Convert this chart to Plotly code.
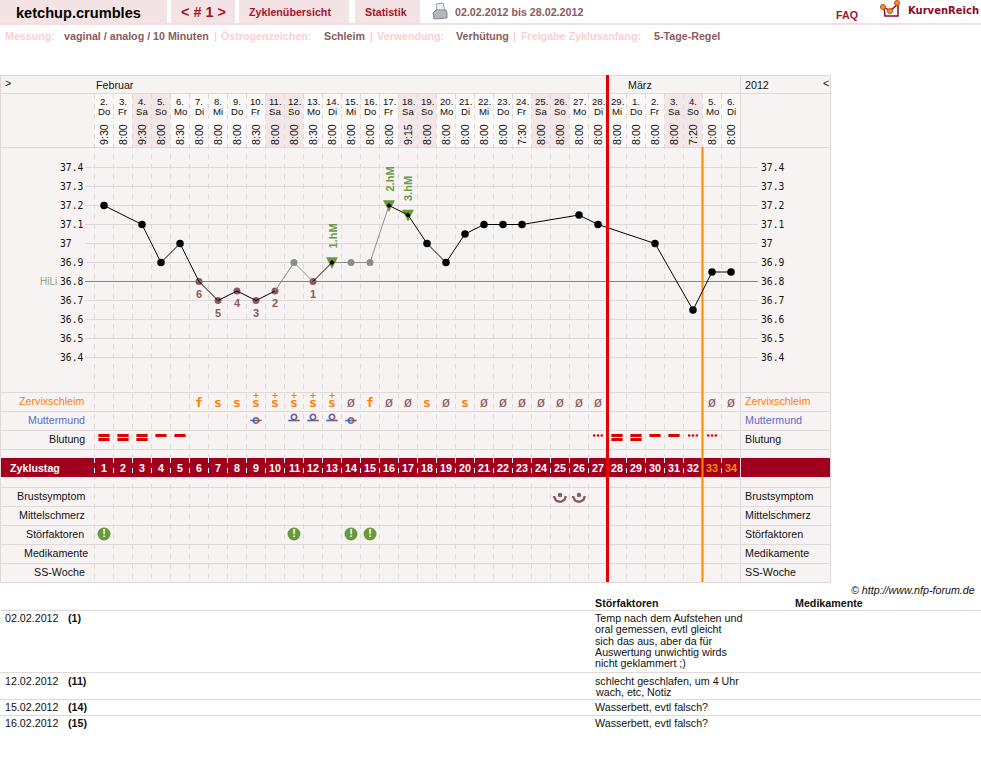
import math
import plotly.graph_objects as go

W, H = 981, 773
DAY_PX = 19
TEMP_PX = 190

dates = ["2.", "3.", "4.", "5.", "6.", "7.", "8.", "9.", "10.", "11.", "12.", "13.", "14.", "15.", "16.", "17.", "18.",
         "19.", "20.", "21.", "22.", "23.", "24.", "25.", "26.", "27.", "28.", "29.", "1.", "2.", "3.", "4.", "5.", "6."]
weekdays = ["Do", "Fr", "Sa", "So", "Mo", "Di", "Mi", "Do", "Fr", "Sa", "So", "Mo", "Di", "Mi", "Do", "Fr", "Sa",
            "So", "Mo", "Di", "Mi", "Do", "Fr", "Sa", "So", "Mo", "Di", "Mi", "Do", "Fr", "Sa", "So", "Mo", "Di"]
times = ["9:30", "8:00", "9:30", "8:00", "8:30", "8:00", "8:00", "8:00", "8:30", "8:00", "8:00", "8:30", "8:00", "8:00",
         "8:00", "8:00", "9:15", "8:00", "8:00", "8:00", "8:00", "8:00", "7:30", "8:00", "8:00", "8:00", "8:00", "8:00",
         "8:00", "8:00", "8:00", "7:20", "8:00", "8:00"]
cycle_days = list(range(1, 35))

temps = [37.2, None, 37.1, 36.9, 37.0, 36.8, 36.7, 36.75, 36.7, 36.75, 36.9, 36.8, 36.9, 36.9, 36.9, 37.2, 37.15,
         37.0, 36.9, 37.05, 37.1, 37.1, 37.1, None, None, 37.15, 37.1, None, None, 37.0, None, 36.65, 36.85, 36.85]
excluded_days = [11, 14, 15]
low_days = [6, 7, 8, 9, 10, 12]
low_labels = ["6", "5", "4", "3", "2", "1"]
peak_days = [13, 16, 17]
peak_labels = ["1.hM", "2.hM", "3.hM"]
cover_line = 36.8
temp_ticks = [37.4, 37.3, 37.2, 37.1, 37.0, 36.9, 36.8, 36.7, 36.6, 36.5, 36.4]
temp_tick_labels = ["37.4", "37.3", "37.2", "37.1", "37", "36.9", "36.8", "36.7", "36.6", "36.5", "36.4"]

mucus = ["", "", "", "", "", "f", "s", "s", "s+", "s+", "s+", "s+", "s+", "ø", "f", "ø", "ø", "s", "ø", "s", "ø", "ø",
         "ø", "ø", "ø", "ø", "ø", "", "", "", "", "", "ø", "ø"]
cervix_mid_days = [9, 14]
cervix_high_days = [11, 12, 13]
bleed_heavy_days = [1, 2, 3, 28, 29]
bleed_normal_days = [4, 5, 30, 31]
bleed_spot_days = [27, 32, 33]
breast_days = [25, 26]
disturbance_days = [1, 11, 14, 15]
red_line_day = 27.5
orange_line_day = 32.5

row_names = ["Zervixschleim", "Muttermund", "Blutung", "Brustsymptom", "Mittelschmerz", "Störfaktoren", "Medikamente", "SS-Woche"]
row_centres = [401, 420, 439, 496, 515, 534, 553, 572]
row_right_edges = [85, 86, 86, 86, 86, 85, 89, 86]
row_colours = ["#ff8000", "#5a6ccc", "#111111", "#111111", "#111111", "#111111", "#111111", "#111111"]
row_rules = [392, 411, 430, 449, 487, 506, 525, 544, 563, 582]

note_dates = ["02.02.2012", "12.02.2012", "15.02.2012", "16.02.2012"]
note_days = ["(1)", "(11)", "(14)", "(15)"]
note_lines = [["Temp nach dem Aufstehen und", "oral gemessen, evtl gleicht", "sich das aus, aber da für",
               "Auswertung unwichtig wirds", "nicht geklammert ;)"],
              ["schlecht geschlafen, um 4 Uhr", "wach, etc, Notiz"],
              ["Wasserbett, evtl falsch?"],
              ["Wasserbett, evtl falsch?"]]
note_tops = [618, 681, 707, 723]
note_rules = [610, 672, 699, 715]

BG = "#f8f3f3"
RULE = "#dfdad9"
WEEKEND = "#f3e6e7"
CRIMSON = "#a0001e"
TAB_RED = "#a3142d"
BROWN = "#8a5a5e"
GREEN = "#669a3a"
PINK = "#f9d0d1"
SANS = "Liberation Sans"
MONO = "DejaVu Sans Mono"
BODY = 10.7


def px(x):
    return x / W


def py(y):
    return 1 - y / H


def day_x(pixel):
    return 1 + (pixel - 104) / DAY_PX


shapes = []
annotations = []


def rect(x0, y0, x1, y1, color, layer="below"):
    shapes.append(dict(type="rect", xref="paper", yref="paper", x0=px(x0), x1=px(x1), y0=py(y0), y1=py(y1),
                       fillcolor=color, line_width=0, layer=layer))


def hline(x0, x1, y, color=RULE, width=1):
    shapes.append(dict(type="line", xref="paper", yref="paper", x0=px(x0), x1=px(x1), y0=py(y), y1=py(y),
                       line=dict(color=color, width=width), layer="below"))


def vline(x, y0, y1, color=RULE, width=1, dash="solid"):
    shapes.append(dict(type="line", xref="paper", yref="paper", x0=px(x), x1=px(x), y0=py(y0), y1=py(y1),
                       line=dict(color=color, width=width, dash=dash), layer="below"))


def label(x, y, text, size=BODY, color="#111111", bold=False, anchor="left", family=SANS, angle=0, italic=False,
          xref="paper", yref="paper"):
    if bold:
        text = "<b>" + text + "</b>"
    if italic:
        text = "<i>" + text + "</i>"
    # annotations carry a one-pixel inset on the anchored side
    left_inset = 1 if anchor == "left" and xref == "paper" else 0
    annotations.append(dict(x=px(x - left_inset) if xref == "paper" else x, y=py(y) if yref == "paper" else y, xref=xref,
                            yref=yref, text=text, showarrow=False, xanchor=anchor, yanchor="middle", borderpad=0,
                            textangle=angle, font=dict(family=family, size=size, color=color)))


# page header tabs
rect(0, 0, 167, 23, "#f4e3e4")
rect(171, 0, 235, 23, "#f4e3e4")
rect(239, 0, 349, 23, "#f4e3e4")
rect(355, 0, 420, 23, "#f4e3e4")
rect(0, 23, W, 25, "#f4dfe0")
label(16, 13, "ketchup.crumbles", size=14.6, color="#000000", bold=True)
label(181, 12.5, "&lt; # 1 &gt;", size=14.4, color=TAB_RED, bold=True)
label(249, 12.5, "Zyklenübersicht", color=TAB_RED, bold=True)
label(365, 12.5, "Statistik", color=TAB_RED, bold=True)
label(455, 12.5, "02.02.2012 bis 28.02.2012", color=BROWN, bold=True)
label(836, 14.5, "FAQ", color=TAB_RED, bold=True)
label(908, 10.5, "KurvenReich", size=10, color="#8c0a24", bold=True, family="DejaVu Sans")

# printer icon
shapes.append(dict(type="path", xref="paper", yref="paper", layer="below", fillcolor="#eceef2",
                   line=dict(color="#9a9ea4", width=1),
                   path=f"M {px(436)} {py(4)} L {px(443)} {py(3)} L {px(445)} {py(11)} L {px(437)} {py(11)} Z"))
shapes.append(dict(type="path", xref="paper", yref="paper", layer="below", fillcolor="#b3b6bb",
                   line=dict(color="#85888e", width=1),
                   path=f"M {px(433)} {py(13)} L {px(436)} {py(10)} L {px(446)} {py(10)} L {px(447)} {py(13)} "
                        f"L {px(447)} {py(18)} L {px(434)} {py(19)} Z"))

# logo mark
shapes.append(dict(type="path", xref="paper", yref="paper", layer="below", line=dict(color="#8c0a24", width=1.5),
                   path=f"M {px(884)} {py(7)} L {px(885)} {py(16)} L {px(898)} {py(16)} L {px(898)} {py(4)} "
                        f"L {px(890)} {py(11)} L {px(884)} {py(7)}"))
for lx, ly in [(883, 7), (890, 11), (897, 3)]:
    shapes.append(dict(type="circle", xref="paper", yref="paper", layer="above", fillcolor="#f59a10",
                       line=dict(color="#c8401a", width=1), x0=px(lx - 2.5), x1=px(lx + 2.5), y0=py(ly - 2.5),
                       y1=py(ly + 2.5)))

# settings line
for x, text, colour in [(5, "Messung:", PINK), (64, "vaginal / analog / 10 Minuten", BROWN), (214, "|", PINK),
                        (221, "Östrogenzeichen:", PINK), (324, "Schleim", BROWN), (370, "|", PINK),
                        (377, "Verwendung:", PINK), (456, "Verhütung", BROWN), (513, "|", PINK),
                        (521, "Freigabe Zyklusanfang:", PINK), (654, "5-Tage-Regel", BROWN)]:
    label(x, 36, text, color=colour, bold=True)

# chart panel
rect(0, 75, 831, 583, BG)
for i, name in enumerate(weekdays):
    colour = WEEKEND if name in ("Sa", "So") else "#fbf8f8"
    x0 = 94.5 + DAY_PX * i
    rect(x0, 94, x0 + DAY_PX, 147, colour)
hline(0, 831, 75.5)
hline(0, 831, 93.5)
hline(0, 831, 147.5)
vline(0.5, 75, 583)
vline(830.5, 75, 583)
for i in range(len(cycle_days) + 1):
    vline(94.5 + DAY_PX * i, 94, 582, dash="5px,5px")
for y in row_rules:
    hline(0, 831, y + 0.5)

# cycle day band
rect(1, 458, 830, 477, CRIMSON)
for i in range(len(cycle_days) + 1):
    vline(94.5 + DAY_PX * i, 458, 477, color="#ffffff", dash="5px,5px")
vline(740.5, 75, 583)
label(10, 468, "Zyklustag", color="#ffffff", bold=True)
for d in cycle_days:
    label(d, 468, str(d), color="#ff8c00" if d >= 33 else "#ffffff", bold=True, anchor="center", xref="x")

# temperature scale
for value, text in zip(temp_ticks, temp_tick_labels):
    shapes.append(dict(type="line", xref="paper", yref="y", x0=px(85), x1=px(758), y0=value, y1=value,
                       line=dict(color=RULE, width=1), layer="below"))
    label(59.5, value, text, size=9.7, family=MONO, color="#111111", yref="y")
    label(761, value, text, size=9.7, family=MONO, color="#111111", yref="y")
shapes.append(dict(type="line", xref="paper", yref="y", x0=px(85), x1=px(758), y0=cover_line, y1=cover_line,
                   line=dict(color="#6f9a48", width=1), layer="below"))
label(40, cover_line, "HiLi", size=10, color="#8da67c", yref="y")

# cycle boundary markers
shapes.append(dict(type="line", xref="x", yref="paper", x0=orange_line_day, x1=orange_line_day, y0=py(147), y1=py(582),
                   line=dict(color="#ff8800", width=2), layer="below"))
shapes.append(dict(type="line", xref="x", yref="paper", x0=red_line_day, x1=red_line_day, y0=py(75), y1=py(582),
                   line=dict(color="#e60000", width=3), layer="above"))

# calendar header
label(96, 85, "Februar")
label(628, 85, "März")
label(745, 85, "2012")
label(5, 83, "&gt;")
label(823, 83, "&lt;")
for d, day, name, clock in zip(cycle_days, dates, weekdays, times):
    label(d, 101.5, day, size=9.6, anchor="center", xref="x")
    label(d, 111.5, name, size=9.6, anchor="center", xref="x")
    label(d, 135, clock, size=BODY, anchor="center", angle=-90, xref="x")

# row captions on both sides
for name, centre, colour, edge in zip(row_names, row_centres, row_colours, row_right_edges):
    label(edge, centre, name, color=colour, anchor="right")
    label(745, centre, name, color=colour)

# footer table
label(976, 590, "© http://www.nfp-forum.de", anchor="right", italic=True)
label(595, 603, "Störfaktoren", bold=True)
label(795, 603, "Medikamente", bold=True)
for y in note_rules:
    hline(0, W, y + 0.5)
for date, day, lines, top in zip(note_dates, note_days, note_lines, note_tops):
    label(5, top, date)
    label(68, top, day, bold=True)
    for j, line in enumerate(lines):
        label(595, top + j * 11.3, line)

fig = go.Figure()
measured = [(d, t) for d, t in zip(cycle_days, temps) if t is not None]
black_x, black_y, grey_x, grey_y = [], [], [], []
for (d0, t0), (d1, t1) in zip(measured, measured[1:]):
    if d0 in excluded_days or d1 in excluded_days:
        grey_x += [d0, d1, None]
        grey_y += [t0, t1, None]
    else:
        black_x += [d0, d1, None]
        black_y += [t0, t1, None]
lookup = dict(measured)


def temp_markers(days, symbol, size, colour):
    fig.add_trace(go.Scatter(x=days, y=[lookup[d] for d in days], mode="markers",
                             marker=dict(symbol=symbol, size=size, color=colour, line_width=0), showlegend=False))


temp_markers(low_days, "circle", 7, "#8a5a5e")
temp_markers(excluded_days, "circle", 7, "#8c8c8c")

# peak markers: a downward wedge hanging around the reading
wedge_x, wedge_y = [], []
for d in peak_days:
    t = lookup[d]
    wedge_x += [d - 5.5 / DAY_PX, d + 5.5 / DAY_PX, d, d - 5.5 / DAY_PX, None]
    wedge_y += [t + 5 / TEMP_PX, t + 5 / TEMP_PX, t - 6 / TEMP_PX, t + 5 / TEMP_PX, None]
fig.add_trace(go.Scatter(x=wedge_x, y=wedge_y, mode="lines", fill="toself", fillcolor=GREEN,
                         line=dict(color=GREEN, width=0.5), showlegend=False))

fig.add_trace(go.Scatter(x=grey_x, y=grey_y, mode="lines", line=dict(color="#8c8c8c", width=1), showlegend=False))
fig.add_trace(go.Scatter(x=black_x, y=black_y, mode="lines", line=dict(color="#000000", width=1), showlegend=False))
plain_days = [d for d, _ in measured if d not in excluded_days + low_days + peak_days]
temp_markers(plain_days, "circle", 7.5, "#000000")
temp_markers(peak_days, "diamond", 4, "#000000")

for d, text in zip(low_days, low_labels):
    annotations.append(dict(x=d, y=lookup[d], xref="x", yref="y", text=f"<b>{text}</b>", showarrow=False, yshift=-12,
                            borderpad=0, font=dict(family=SANS, size=11, color=BROWN)))
for d, text in zip(peak_days, peak_labels):
    annotations.append(dict(x=d, y=lookup[d], xref="x", yref="y", text=f"<b>{text}</b>", showarrow=False, yshift=26,
                            textangle=-90, borderpad=0, font=dict(family=SANS, size=11, color="#6a9a45")))


def row_trace(x, y, **kwargs):
    fig.add_trace(go.Scatter(x=x, y=y, yaxis="y2", showlegend=False, **kwargs))


def arc(day, centre, radius, start, stop, steps=10):
    angles = [math.radians(start + (stop - start) * k / steps) for k in range(steps + 1)]
    return ([day + radius * math.cos(a) / DAY_PX for a in angles], [centre + radius * math.sin(a) for a in angles])


# cervical mucus symbols
mucus_orange = [(d, m[0]) for d, m in zip(cycle_days, mucus) if m and m[0] in "fs"]
mucus_dry = [d for d, m in zip(cycle_days, mucus) if m == "ø"]
mucus_plus = [d for d, m in zip(cycle_days, mucus) if m == "s+"]
row_trace([d for d, _ in mucus_orange], [403.5] * len(mucus_orange), mode="text", text=[m for _, m in mucus_orange],
          textfont=dict(family=MONO, size=13, color="#ff8000", weight="bold"))
row_trace(mucus_dry, [403.5] * len(mucus_dry), mode="text", text=["ø"] * len(mucus_dry),
          textfont=dict(family=MONO, size=14, color=BROWN))
row_trace(mucus_plus, [395.5] * len(mucus_plus), mode="markers",
          marker=dict(symbol="cross-thin", size=3.8, line=dict(color="#ff8000", width=1.1)))


# cervix position symbols: blue on the left half, brown on the right
def cervix(days, ring_y, bar_y):
    for d in days:
        xs, ys = arc(d, ring_y, 2.7, 90, 270)
        row_trace(xs + [None, d - 0.3, d], ys + [None, bar_y, bar_y], mode="lines", line=dict(color="#4f5fc4", width=1.6))
        xs, ys = arc(d, ring_y, 2.7, -90, 90)
        row_trace(xs + [None, d, d + 0.3], ys + [None, bar_y, bar_y], mode="lines", line=dict(color=BROWN, width=1.6))


cervix(cervix_mid_days, 420.5, 420.5)
cervix(cervix_high_days, 417, 420.5)

# bleeding symbols
bar = dict(symbol="line-ew", size=8, line=dict(color="#dd0000", width=3))
row_trace(bleed_heavy_days + bleed_normal_days, [435.5] * 9, mode="markers", marker=bar)
row_trace(bleed_heavy_days, [439.5] * len(bleed_heavy_days), mode="markers", marker=bar)
spot_x = [d + offset for d in bleed_spot_days for offset in (-0.2, 0, 0.2)]
row_trace(spot_x, [435.5] * len(spot_x), mode="markers", marker=dict(symbol="circle", size=2.6, color="#dd0000", line_width=0))

# breast symptom symbols
for d in breast_days:
    xs, ys = arc(d, 496, 5.8, 0, 180, 16)
    row_trace(xs, ys, mode="lines", line=dict(color=BROWN, width=2.4))
row_trace(breast_days, [495] * len(breast_days), mode="markers", marker=dict(symbol="circle", size=4.5, color=BROWN, line_width=0))

# disturbance badges
row_trace(disturbance_days, [534] * len(disturbance_days), mode="markers+text", text=["!"] * len(disturbance_days),
          textposition="middle center", marker=dict(symbol="circle", size=13, color=GREEN, line_width=0),
          textfont=dict(family=SANS, size=11, color="#ffffff", weight="bold"))

fig.update_layout(
    width=W, height=H, autosize=False, margin=dict(l=0, r=0, t=0, b=0), paper_bgcolor="#ffffff", plot_bgcolor="rgba(0,0,0,0)",
    hovermode=False, showlegend=False, shapes=shapes, annotations=annotations,
    xaxis=dict(range=[day_x(0), day_x(W)], domain=[0, 1], visible=False, fixedrange=True),
    yaxis=dict(range=[cover_line + (281.5 - H) / TEMP_PX, cover_line + 281.5 / TEMP_PX], domain=[0, 1], visible=False, fixedrange=True),
    yaxis2=dict(range=[H, 0], overlaying="y", visible=False, fixedrange=True),
)
fig.write_html("out.html", config=dict(displayModeBar=False))
